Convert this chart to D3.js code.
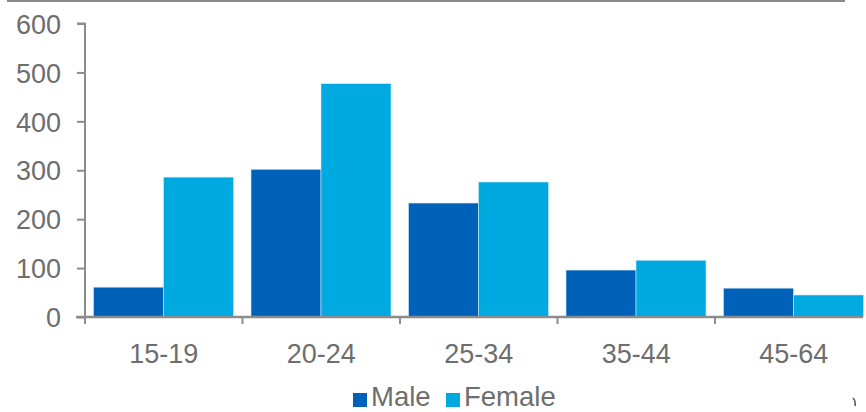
<!DOCTYPE html>
<html><head><meta charset="utf-8">
<script src="https://cdn.jsdelivr.net/npm/d3@7"></script>
<style>body{margin:0;background:#fff}svg{display:block}text{font-family:"Liberation Sans",Arial,sans-serif}</style>
</head><body>
<script>
const categories = ["15-19","20-24","25-34","35-44","45-64"];
const seriesNames = ["Male","Female"];
const male = [61, 302, 233, 96, 59];
const female = [286, 477, 276, 116, 45];
const yTicks = [0,100,200,300,400,500,600];
const colors = ["#0061B9","#00A9E0"];

const W=866,H=412;
const svg=d3.select("body").append("svg").attr("width",W).attr("height",H);
const x0=85, step=157.5;
const x=d3.scaleBand().domain(categories).range([x0,x0+step*categories.length]).padding(0);
const xi=d3.scaleBand().domain(seriesNames).range([8.5,148.5]).padding(0);
const y=d3.scaleLinear().domain([0,600]).range([317,23.5]);
const gray="#8c8c8c", txt="#6e6e6e";

// top border line
svg.append("line").attr("x1",7).attr("x2",845).attr("y1",1).attr("y2",1).attr("stroke","#8a8a8a").attr("stroke-width",2);

const data=categories.map((c,i)=>({c,vals:[{s:"Male",v:male[i]},{s:"Female",v:female[i]}]}));
const g=svg.append("g");
g.selectAll("g.grp").data(data).join("g").attr("class","grp")
 .attr("transform",d=>`translate(${x(d.c)},0)`)
 .selectAll("rect").data(d=>d.vals).join("rect")
 .attr("x",d=>xi(d.s)).attr("width",xi.bandwidth())
 .attr("y",d=>y(d.v)).attr("height",d=>y(0)-y(d.v))
 .attr("fill",(d,i)=>colors[i]).attr("stroke","#cfeaf7").attr("stroke-width",0.6);

// y axis
const ya=svg.append("g").attr("transform",`translate(${x0},0)`)
 .call(d3.axisLeft(y).tickValues(yTicks).tickSize(8).tickPadding(16));
ya.select(".domain").attr("d",`M-8,${y(600)}H0V${y(0)+7}`).attr("stroke",gray).attr("stroke-width",2).attr("fill","none");
ya.selectAll(".tick line").attr("stroke",gray).attr("stroke-width",2);
ya.selectAll(".tick text").attr("fill",txt).attr("font-size",27).attr("dy","0.36em");

// x axis
const xa=svg.append("g").attr("transform",`translate(0,${y(0)})`)
 .call(d3.axisBottom(x).tickSize(0).tickPadding(27));
xa.select(".domain").attr("d",`M${x0-9},0H863`).attr("stroke",gray).attr("stroke-width",2.5);
xa.selectAll(".tick text").attr("fill",txt).attr("font-size",27);
const bnds=d3.range(1,categories.length).map(i=>x(categories[i]));
xa.selectAll("line.bt").data(bnds).join("line").attr("class","bt")
 .attr("x1",d=>d).attr("x2",d=>d).attr("y1",0).attr("y2",7).attr("stroke",gray).attr("stroke-width",2);

// legend
const leg=svg.append("g");
const lx=[353,446];
seriesNames.forEach((s,i)=>{
  leg.append("rect").attr("x",lx[i]).attr("y",393).attr("width",14).attr("height",14).attr("fill",colors[i]);
  leg.append("text").attr("x",lx[i]+18).attr("y",406).attr("font-size",27.5).attr("fill",txt).text(s);
});
// small stray mark
svg.append("path").attr("d","M853,398 Q856,401 855,406").attr("stroke","#555").attr("stroke-width",1.5).attr("fill","none");
</script>
</body></html>
